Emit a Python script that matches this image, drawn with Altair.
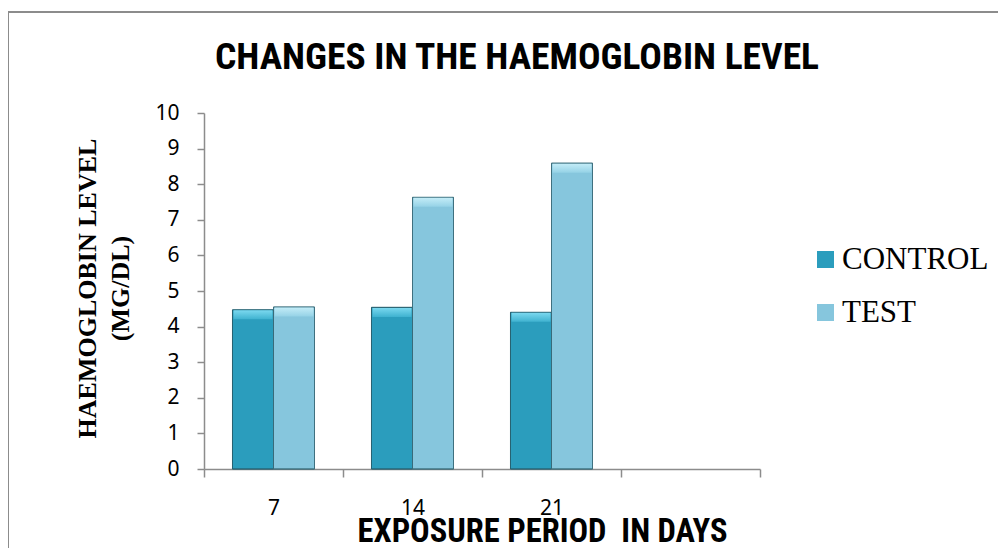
import altair as alt
import pandas as pd

# ---- data ----
periods = ["7", "14", "21"]
period_domain = ["7", "14", "21", ""]
series_names = ["CONTROL", "TEST"]
control = [4.47, 4.54, 4.40]
test = [4.55, 7.63, 8.59]
y_ticks = list(range(0, 11))

rows = []
for p, c, t in zip(periods, control, test):
    rows.append({"period": p, "series": "CONTROL", "value": c})
    rows.append({"period": p, "series": "TEST", "value": t})
df = pd.DataFrame(rows)

AXIS_GRAY = "#8c8c8c"
NARROW = "Liberation Sans Narrow, Arial Narrow, Roboto Condensed, sans-serif"
LABEL_FONT = "Noto Sans"
SERIF = "Liberation Serif"

x_enc = alt.X(
    "period:N",
    sort=period_domain,
    scale=alt.Scale(domain=period_domain, paddingInner=0, paddingOuter=0),
    axis=alt.Axis(
        title="EXPOSURE PERIOD\u00a0 IN DAYS",
        titleFont=NARROW, titleFontSize=32.5, titleFontWeight="bold", titleColor="black",
        titleX=338, titleY=72, titleBaseline="alphabetic", titleAlign="center",
        labelAngle=0, labelFont=LABEL_FONT, labelFontSize=21, labelColor="black",
        labelPadding=20, tickBand="extent", tickSize=8, tickColor=AXIS_GRAY,
        tickWidth=1.5, domainColor=AXIS_GRAY, domainWidth=1.5, grid=False,
    ),
)
xo_enc = alt.XOffset(
    "series:N",
    scale=alt.Scale(domain=series_names, paddingInner=0, paddingOuter=0.695),
)
y_enc = alt.Y(
    "value:Q",
    scale=alt.Scale(domain=[0, 10], nice=False, zero=True),
    axis=alt.Axis(
        values=y_ticks, grid=False, labelOverlap=False,
        title=["HAEMOGLOBIN LEVEL", "(MG/DL)"],
        titleFont=SERIF, titleFontSize=26, titleFontWeight="bold", titleColor="black",
        titleAngle=270, titleX=-104, titleY=175, titleBaseline="bottom", titleLineHeight=33,
        labelFont=LABEL_FONT, labelFontSize=21, labelColor="black", labelPadding=18,
        tickSize=7, tickColor=AXIS_GRAY, tickWidth=1.5,
        domainColor=AXIS_GRAY, domainWidth=1.5,
    ),
)

color_enc = alt.Color(
    "series:N",
    scale=alt.Scale(domain=series_names, range=["#2b9dbd", "#86c6dd"]),
    legend=alt.Legend(
        title=None, orient="none", legendX=606, legendY=131,
        labelFont=SERIF, labelFontSize=31, labelColor="black",
        symbolType="square", symbolSize=289, symbolStrokeWidth=0,
        rowPadding=21, labelOffset=1, padding=0,
    ),
)

base = alt.Chart(df).mark_bar(stroke="#235d6d", strokeWidth=0.8).encode(
    x=x_enc, xOffset=xo_enc, y=y_enc, color=color_enc
)

ctrl_grad = alt.LinearGradient(
    gradient="linear", x1=0, x2=1, y1=0, y2=0,
    stops=[
        alt.GradientStop(color="#1d7892", offset=0),
        alt.GradientStop(color="#2b9bbb", offset=0.12),
        alt.GradientStop(color="#31a6c6", offset=0.5),
        alt.GradientStop(color="#2896b4", offset=0.88),
        alt.GradientStop(color="#1b6a80", offset=1),
    ],
)
test_grad = alt.LinearGradient(
    gradient="linear", x1=0, x2=1, y1=0, y2=0,
    stops=[
        alt.GradientStop(color="#6aa9bd", offset=0),
        alt.GradientStop(color="#85c4db", offset=0.12),
        alt.GradientStop(color="#8dcbe1", offset=0.5),
        alt.GradientStop(color="#7fb9cd", offset=0.88),
        alt.GradientStop(color="#5f95a6", offset=1),
    ],
)
ctrl_top = alt.LinearGradient(
    gradient="linear", x1=0, x2=0, y1=0, y2=1,
    stops=[
        alt.GradientStop(color="#7ad8ef", offset=0),
        alt.GradientStop(color="#3fb2d0", offset=1),
    ],
)
test_top = alt.LinearGradient(
    gradient="linear", x1=0, x2=0, y1=0, y2=1,
    stops=[
        alt.GradientStop(color="#c3ecf7", offset=0),
        alt.GradientStop(color="#95d2e6", offset=1),
    ],
)

ctrl_layer = base.mark_bar(color=ctrl_grad, stroke="#235d6d", strokeWidth=0.8).encode(
    color=alt.value(None)
).transform_filter(alt.datum.series == "CONTROL")
test_layer = base.mark_bar(color=test_grad, stroke="#3d6e7c", strokeWidth=0.8).encode(
    color=alt.value(None)
).transform_filter(alt.datum.series == "TEST")

ctrl_bevel = alt.Chart(df).mark_tick(
    color=ctrl_top, thickness=9, size=39, yOffset=5, opacity=1
).encode(x=x_enc, xOffset=xo_enc, y=y_enc).transform_filter(
    alt.datum.series == "CONTROL"
)
test_bevel = alt.Chart(df).mark_tick(
    color=test_top, thickness=9, size=39, yOffset=5, opacity=1
).encode(x=x_enc, xOffset=xo_enc, y=y_enc).transform_filter(
    alt.datum.series == "TEST"
)

border = alt.Chart(pd.DataFrame({"k": [0]})).mark_rect(
    filled=False, stroke=AXIS_GRAY, strokeWidth=2
).encode(
    x=alt.value(-196), x2=alt.value(900), y=alt.value(-101), y2=alt.value(600)
)

chart = (
    alt.layer(border, base, ctrl_layer, test_layer, ctrl_bevel, test_bevel)
    .properties(
        width=556, height=356,
        title=alt.TitleParams(
            "CHANGES IN THE HAEMOGLOBIN LEVEL",
            font=NARROW, fontSize=37.5, fontWeight="bold", color="black",
            anchor="middle", dx=35, offset=-95, baseline="alphabetic",
        ),
        autosize=alt.AutoSizeParams(type="none"),
        padding={"left": 196, "top": 105, "right": 238, "bottom": 79},
    )
    .configure_view(stroke="white", strokeWidth=0, strokeOpacity=0)
    .configure(background="white", style={"cell": {"stroke": "white", "strokeWidth": 0}})
)

chart.save("out.html", embed_options={"renderer": "svg", "actions": False})
